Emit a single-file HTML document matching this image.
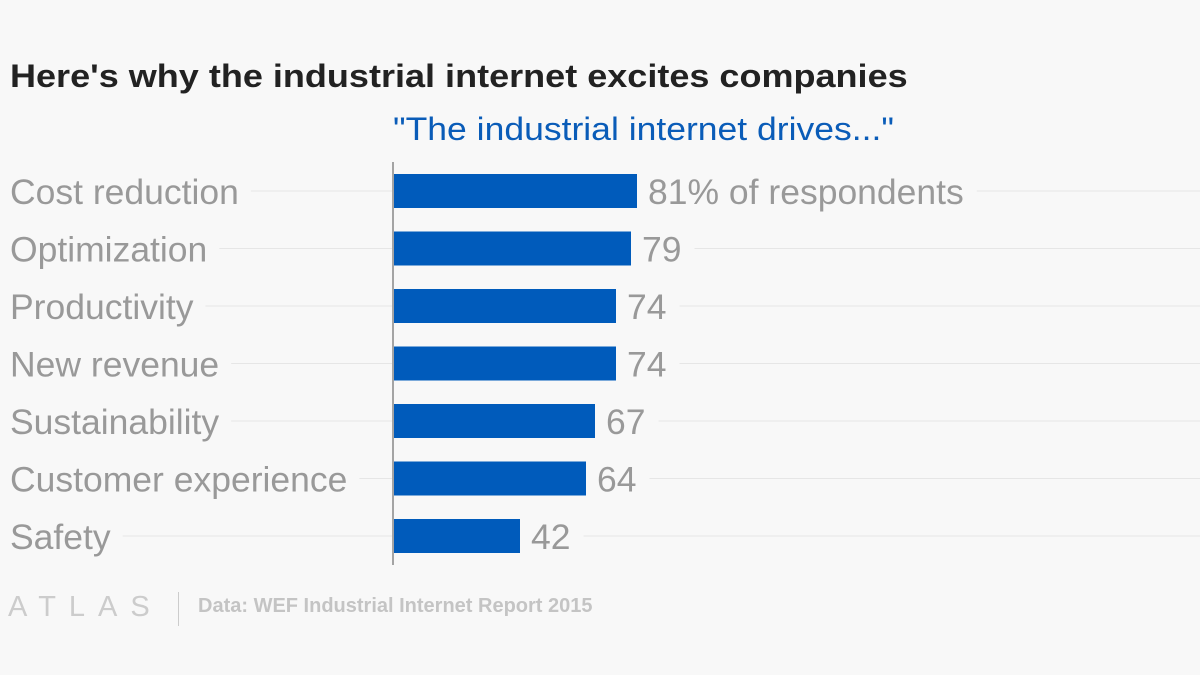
<!DOCTYPE html>
<html><head><meta charset="utf-8"><style>
body{margin:0;background:#f8f8f8;}
#c{position:relative;width:1200px;height:675px;overflow:hidden;font-family:"Liberation Sans",sans-serif;}
.t{position:absolute;white-space:nowrap;transform-origin:0 0;}
</style></head><body>
<div id="c">
<div class="t" style="left:10px;top:58px;font-size:32px;font-weight:bold;color:#222;transform:scaleX(1.126)">Here's why the industrial internet excites companies</div>
<div class="t" style="left:393px;top:111px;font-size:32px;color:#0a5cb8;transform:scaleX(1.11)">"The industrial internet drives..."</div>
<svg id="s" width="1200" height="675" style="position:absolute;left:0;top:0"></svg>
<div class="t" style="left:8px;top:591px;font-size:29px;color:#ccc;letter-spacing:13px;font-weight:300">ATLAS</div>
<div class="t" style="left:178px;top:592px;width:1px;height:34px;background:#ccc"></div>
<div class="t" style="left:198px;top:595px;font-size:20px;color:#c4c4c4;font-weight:bold">Data: WEF Industrial Internet Report 2015</div>
</div>
<script>
const categories=["Cost reduction","Optimization","Productivity","New revenue","Sustainability","Customer experience","Safety"];
const values=[81,79,74,74,67,64,42];
const valueLabels=["81% of respondents","79","74","74","67","64","42"];
const NS="http://www.w3.org/2000/svg";
const s=document.getElementById('s');
const x0=394, scale=3, y0=191, step=57.5, bh=34, fs=35.5;
const xs=v=>x0+v*scale, ys=i=>y0+i*step;
function mk(t,a){const e=document.createElementNS(NS,t);for(const k in a)e.setAttribute(k,a[k]);s.appendChild(e);return e;}
const meas=document.createElement('canvas').getContext('2d');
meas.font=fs+'px "Liberation Sans", sans-serif';
categories.forEach((c,i)=>{
  const y=ys(i);
  const lw=meas.measureText(c).width;
  const g1=mk('line',{x1:10+lw+12,x2:392,y1:y,y2:y,stroke:'#e6e6e6','stroke-width':1});
  
  
  const vw=meas.measureText(valueLabels[i]).width;
  const g2=mk('line',{x1:xs(values[i])+12+vw+12,x2:1200,y1:y,y2:y,stroke:'#e6e6e6','stroke-width':1});
  
  
  const l=mk('text',{x:10,y:y+13,'font-size':fs,fill:'#999','font-family':'"Liberation Sans", sans-serif'});
  l.textContent=c;
  
  
  const b=mk('rect',{x:x0,y:y-bh/2,width:xs(values[i])-x0,height:bh,fill:'#005bbb'});
  
  
  const v=mk('text',{x:xs(values[i])+11,y:y+13,'font-size':fs,fill:'#999','font-family':'"Liberation Sans", sans-serif'});
  v.textContent=valueLabels[i];
  
  
});
const ax=mk('line',{x1:393,x2:393,y1:162,y2:565,stroke:'#888','stroke-width':1.5});


</script>
</body></html>
